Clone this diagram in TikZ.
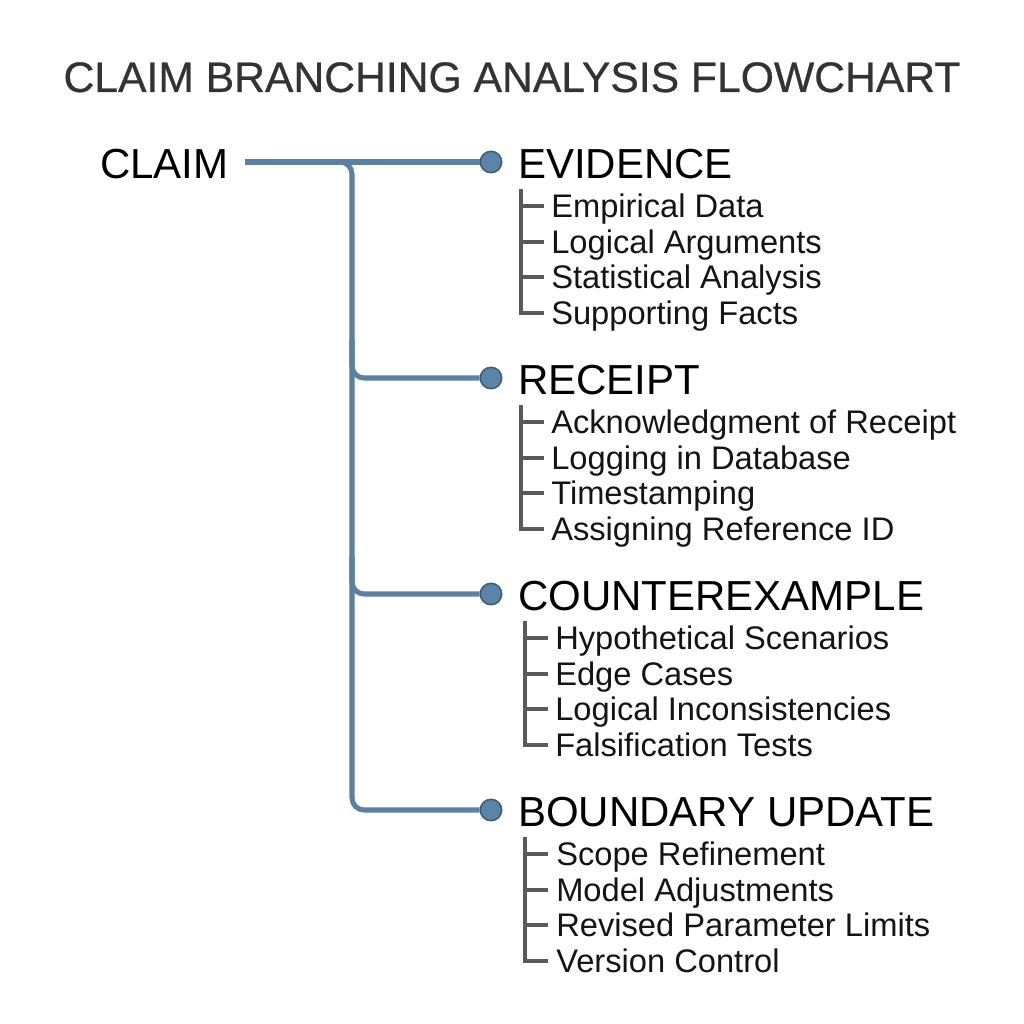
\documentclass[tikz,border=0pt]{standalone}
\usepackage{fontspec}
\setmainfont{Liberation Sans}
\newfontfamily\titlefont[FakeBold=0.6]{Liberation Sans}
\definecolor{trunk}{HTML}{5A80A3}
\definecolor{dotfill}{HTML}{5B84AA}
\definecolor{dotedge}{HTML}{3F5B78}
\definecolor{brk}{HTML}{5A5A5A}
\definecolor{titlec}{HTML}{333333}
\begin{document}
\begin{tikzpicture}[x=0.75pt,y=-0.75pt,
  trunkline/.style={draw=trunk,line width=3.8pt,rounded corners=9pt},
  dotnode/.style={circle,fill=dotfill,draw=dotedge,line width=1.2pt,minimum size=16pt,inner sep=0pt},
  head/.style={anchor=base west,font=\fontsize{31.5}{36}\selectfont,text=black,inner sep=0pt},
  item/.style={anchor=base west,font=\fontsize{24.5}{28}\selectfont,text=black!92,inner sep=0pt},
  brkline/.style={draw=brk,line width=3pt},
  titlestyle/.style={anchor=base,font=\titlefont\fontsize{32}{36}\selectfont,text=titlec,inner sep=0pt}]
\useasboundingbox (0,0) rectangle (1024,1024);
\node[titlestyle] (title) at (512,92) {CLAIM BRANCHING ANALYSIS FLOWCHART};
\node[head,anchor=base west] (claim) at (100,178) {CLAIM};
\coordinate (cstart) at (245,162);
% branch dots
\node[dotnode] (d1) at (491,162) {};
\node[dotnode] (d2) at (491,378) {};
\node[dotnode] (d3) at (491,594) {};
\node[dotnode] (d4) at (491,810) {};
% headings
\node[head] (h1) at (518,178) {EVIDENCE};
\node[head] (h2) at (518,394) {RECEIPT};
\node[head] (h3) at (518,610) {COUNTEREXAMPLE};
\node[head] (h4) at (518,826) {BOUNDARY UPDATE};
% trunk
\draw[draw=trunk,line width=3.8pt] (cstart) -- (d1.west);
\draw[trunkline] (336,162) -- (352,162) -- (352,810) -- (d4.west);
\draw[trunkline] (352,340) -- (352,378) -- (d2.west);
\draw[trunkline] (352,556) -- (352,594) -- (d3.west);
% items
\foreach \y/\bx/\tx/\a/\b/\c/\d [count=\k] in {
  162/521/551/Empirical Data/Logical Arguments/Statistical Analysis/Supporting Facts,
  378/521/551/Acknowledgment of Receipt/Logging in Database/Timestamping/Assigning Reference ID,
  594/525/555/Hypothetical Scenarios/Edge Cases/Logical Inconsistencies/Falsification Tests,
  810/525/556/Scope Refinement/Model Adjustments/Revised Parameter Limits/Version Control}{
  \node[item] (i\k a) at (\tx,\y+55) {\a};
  \node[item] (i\k b) at (\tx,\y+91) {\b};
  \node[item] (i\k c) at (\tx,\y+126) {\c};
  \node[item] (i\k d) at (\tx,\y+162) {\d};
  \draw[brkline] (\bx,\y+27) -- (\bx,\y+151) -- (\bx+23,\y+151);
  \draw[brkline] (\bx,\y+44) -- (\bx+23,\y+44);
  \draw[brkline] (\bx,\y+80) -- (\bx+23,\y+80);
  \draw[brkline] (\bx,\y+115) -- (\bx+23,\y+115);
}
\end{tikzpicture}
\end{document}
